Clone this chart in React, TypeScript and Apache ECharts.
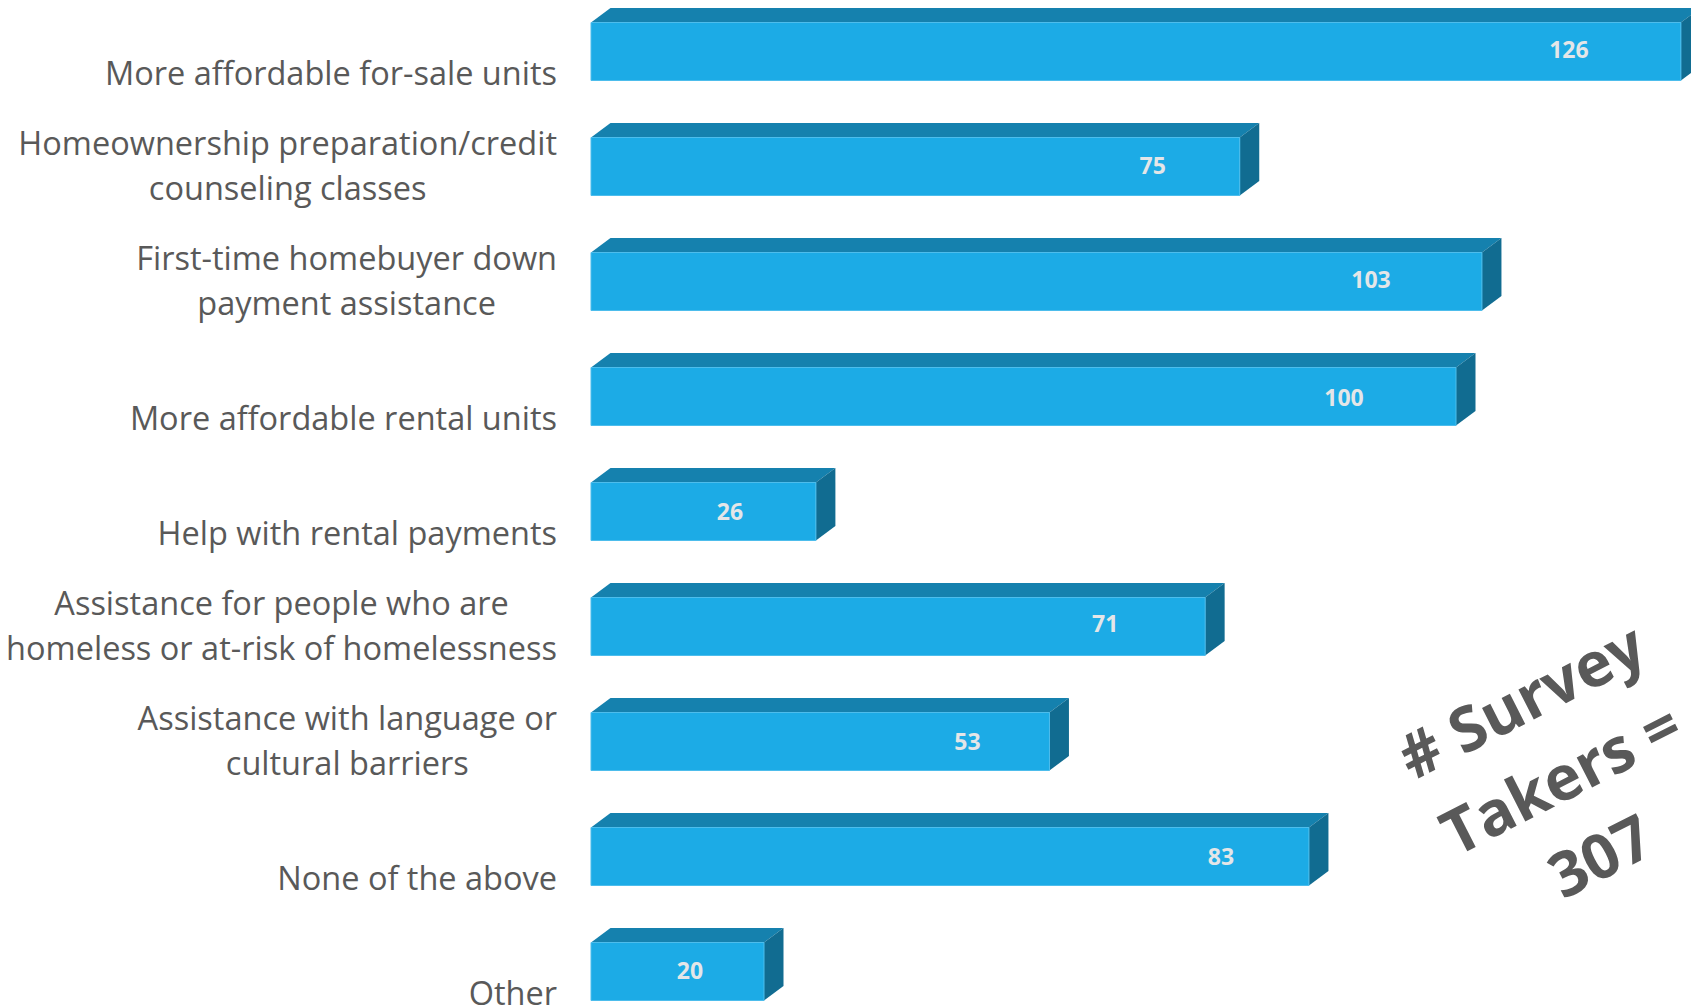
import React, { useEffect, useRef } from "react";
import * as echarts from "echarts";

const categories = [
  "More affordable for-sale units",
  "Homeownership preparation/credit\ncounseling classes",
  "First-time homebuyer down\npayment assistance",
  "More affordable rental units",
  "Help with rental payments",
  "Assistance for people who are\nhomeless or at-risk of homelessness",
  "Assistance with language or\ncultural barriers",
  "None of the above",
  "Other",
];
const values = [126, 75, 103, 100, 26, 71, 53, 83, 20];
const annotationLines = ["# Survey", "Takers =", "307"];

// value-label placement, measured back from the bar end (layout, not data)
const labelInset = [112, 87, 111, 112, 86, 100, 82, 88, 74];
const labelShift = [-2.5, -2, -3, 0, -1, -4, -1, -1, -2];

const FONT = "'Open Sans', sans-serif";
const FRONT = "#1cabe6";
const EDGE = "#4dbdec";
const TOP = "#1581ae";
const SIDE = "#116c91";
const DEPTH_X = 19.5;
const DEPTH_Y = 14.5;
const BAR_H = 58;

export default function App() {
  const ref = useRef<HTMLDivElement>(null);
  useEffect(() => {
    const chart = echarts.init(ref.current!, undefined, { renderer: "svg" });
    chart.setOption({
      animation: false,
      backgroundColor: "#ffffff",
      grid: { left: 591, top: -6, width: 1124.5, height: 1035, outerBoundsMode: "none" },
      xAxis: { type: "value", min: 0, max: 130, show: false },
      yAxis: {
        type: "category",
        inverse: true,
        data: categories,
        axisLine: { show: false },
        axisTick: { show: false },
        axisLabel: {
          margin: 34,
          interval: 0,
          align: "right",
          padding: [0, 0, 3, 0],
          formatter: (v: string) => {
            const lines = v.split("\n");
            if (lines.length === 1) lines.unshift("\u00a0");
            return lines.map((l) => `{c|${l}}`).join("\n");
          },
          rich: {
            c: {
              align: "center",
              fontFamily: FONT,
              fontSize: 32.5,
              lineHeight: 45.7,
              color: "#595959",
            },
          },
        },
      },
      series: [
        {
          type: "custom",
          clip: false,
          encode: { x: 0, y: 1 },
          data: values.map((v, i) => [v, i]),
          renderItem: (_p: any, api: any) => {
            const v = api.value(0);
            const i = api.value(1);
            const [x1, yc] = api.coord([v, i]);
            const [x0] = api.coord([0, i]);
            const y0 = yc - BAR_H / 2;
            const y1 = yc + BAR_H / 2;
            return {
              type: "group",
              children: [
                {
                  type: "polygon",
                  shape: {
                    points: [
                      [x0, y0],
                      [x0 + DEPTH_X, y0 - DEPTH_Y],
                      [x1 + DEPTH_X, y0 - DEPTH_Y],
                      [x1, y0],
                    ],
                  },
                  style: { fill: TOP },
                },
                {
                  type: "polygon",
                  shape: {
                    points: [
                      [x1, y0],
                      [x1 + DEPTH_X, y0 - DEPTH_Y],
                      [x1 + DEPTH_X, y1 - DEPTH_Y],
                      [x1, y1],
                    ],
                  },
                  style: { fill: SIDE },
                },
                {
                  type: "rect",
                  shape: { x: x0, y: y0, width: x1 - x0, height: BAR_H },
                  style: { fill: FRONT, stroke: EDGE, lineWidth: 1 },
                },
                {
                  type: "text",
                  x: x1 - labelInset[i],
                  y: yc + labelShift[i],
                  style: {
                    text: String(v),
                    align: "center",
                    verticalAlign: "middle",
                    fontFamily: FONT,
                    fontWeight: "bold",
                    fontSize: 23,
                    fill: "#e4e6e8",
                  },
                },
              ],
            };
          },
        },
      ],
      graphic: [
        {
          type: "text",
          x: 1560,
          y: 777,
          rotation: (27 * Math.PI) / 180,
          style: {
            text: annotationLines.join("\n"),
            align: "center",
            verticalAlign: "middle",
            fontFamily: FONT,
            fontWeight: "bold",
            fontSize: 62,
            lineHeight: 87,
            fill: "#595959",
          },
        },
      ],
    });
    return () => chart.dispose();
  }, []);
  return (
    <div
      ref={ref}
      style={{ position: "absolute", left: 0, top: 0, width: 1691, height: 1006 }}
    />
  );
}
